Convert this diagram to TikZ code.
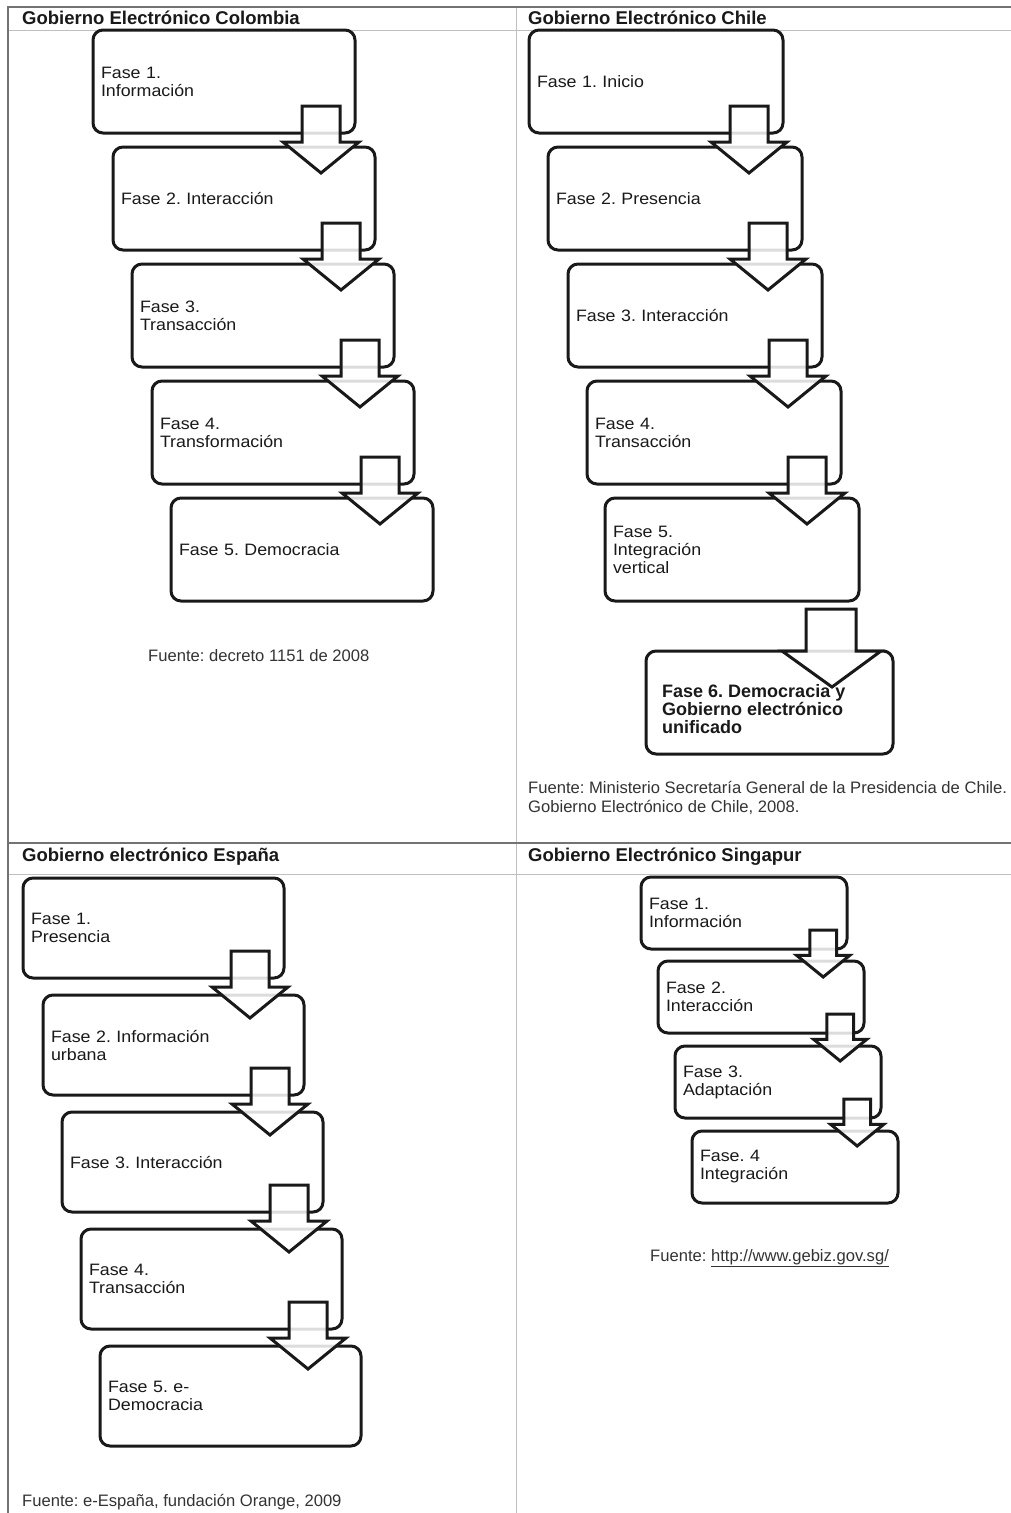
\documentclass[tikz,border=0pt]{standalone}
\usepackage{fontspec}
\setmainfont{Liberation Sans}
\newfontfamily\fasefont{Liberation Sans}[FakeStretch=1.08]
\usepackage{tikz}
\frenchspacing

\tikzset{
  fase/.style={draw=black!90,line width=3pt,rounded corners=10pt,anchor=north west,
    outer sep=0pt,inner xsep=8pt,inner ysep=0pt,align=left,text=black!90,
    font=\fasefont\fontsize{16.5}{18}\selectfont},
  colbox/.style={fase,minimum width=262pt,minimum height=103pt,text width=246pt},
  chibox/.style={fase,minimum width=254pt,minimum height=103pt,text width=238pt},
  espbox/.style={fase,minimum width=261pt,minimum height=100pt,text width=245pt},
  sinbox/.style={fase,minimum width=206pt,minimum height=72pt,text width=190pt},
  flecha/.style={draw=black!90,line width=3pt,fill=white,fill opacity=.85,line join=miter},
  titulo/.style={anchor=west,inner sep=0pt,text=black!90,font=\bfseries\fontsize{18.5}{20}\selectfont},
  fuente/.style={anchor=west,inner sep=0pt,text=black!80,align=left,font=\fontsize{16.6}{18.5}\selectfont},
  rejilla/.style={draw=black!25,line width=1pt}
}
\newcommand{\flecha}[2][1]{\draw[flecha,shift={(#2.south east)},scale=#1]
  (-53,-27)--(-15,-27)--(-15,9)--(4,9)--(-34,40)--(-72,9)--(-53,9)--cycle;}

\begin{document}
\begin{tikzpicture}[x=1pt,y=-1pt]
  \useasboundingbox (0,0) rectangle (1011,1513);
  % tabla
  \draw[rejilla] (516,7)--(516,1513);
  \draw[rejilla] (8,30)--(1011,30);
  \draw[rejilla] (8,874)--(1011,874);
  \draw[draw=black!55,line width=1.3pt] (1011,7)--(8,7)--(8,1513);
  \draw[draw=black!55,line width=1.6pt] (8,843)--(1011,843);
  \node[titulo] (tc) at (22,18) {Gobierno Electrónico Colombia};
  \node[titulo] (tch) at (528,18) {Gobierno Electrónico Chile};
  \node[titulo] (te) at (22,857) {Gobierno electrónico España};
  \node[titulo] (ts) at (528,857) {Gobierno Electrónico Singapur};

  % Colombia
  \node[colbox] (c1) at (93,30) {Fase 1.\\Información};
  \node[colbox] (c2) at (113,147) {Fase 2. Interacción};
  \node[colbox] (c3) at (132,264) {Fase 3.\\Transacción};
  \node[colbox] (c4) at (152,381) {Fase 4.\\Transformación};
  \node[colbox] (c5) at (171,498) {Fase 5. Democracia};
  \flecha{c1}\flecha{c2}\flecha{c3}\flecha{c4}
  \node[fuente] (fc) at (148,656) {Fuente: decreto 1151 de 2008};

  % Chile
  \node[chibox] (ch1) at (529,30) {Fase 1. Inicio};
  \node[chibox] (ch2) at (548,147) {Fase 2. Presencia};
  \node[chibox] (ch3) at (568,264) {Fase 3. Interacción};
  \node[chibox] (ch4) at (587,381) {Fase 4.\\Transacción};
  \node[chibox] (ch5) at (605,498) {Fase 5.\\Integración\\vertical};
  \node[fase,minimum width=247pt,minimum height=103pt] (ch6) at (646,651) {};
  \flecha{ch1}\flecha{ch2}\flecha{ch3}\flecha{ch4}
  \draw[flecha,shift={(ch5.south east)}]
    (-53,8)--(-3,8)--(-3,50)--(22,50)--(-27,86)--(-77,50)--(-53,50)--cycle;
  \node[anchor=west,inner sep=0pt,align=left,text=black!90,font=\bfseries\fontsize{18}{18}\selectfont,
    xshift=16pt,yshift=-7pt] (ch6t) at (ch6.west)
    {Fase 6. Democracia y\\Gobierno electrónico\\unificado};
  \node[fuente] (fch) at (528,798)
    {Fuente: Ministerio Secretaría General de la Presidencia de Chile.\\Gobierno Electrónico de Chile, 2008.};

  % España
  \node[espbox] (e1) at (23,878) {Fase 1.\\Presencia};
  \node[espbox] (e2) at (43,995) {Fase 2. Información\\urbana};
  \node[espbox] (e3) at (62,1112) {Fase 3. Interacción};
  \node[espbox] (e4) at (81,1229) {Fase 4.\\Transacción};
  \node[espbox] (e5) at (100,1346) {Fase 5. e-\\Democracia};
  \flecha{e1}\flecha{e2}\flecha{e3}\flecha{e4}
  \node[fuente] (fe) at (22,1502) {Fuente: e-España, fundación Orange, 2009};

  % Singapur
  \node[sinbox] (s1) at (641,877) {Fase 1.\\Información};
  \node[sinbox] (s2) at (658,961) {Fase 2.\\Interacción};
  \node[sinbox] (s3) at (675,1046) {Fase 3.\\Adaptación};
  \node[sinbox] (s4) at (692,1131) {Fase. 4\\Integración};
  \flecha[.7]{s1}\flecha[.7]{s2}\flecha[.7]{s3}
  \node[fuente] (fs) at (650,1258) {Fuente: \underline{http://www.gebiz.gov.sg/}};
\end{tikzpicture}
\end{document}
